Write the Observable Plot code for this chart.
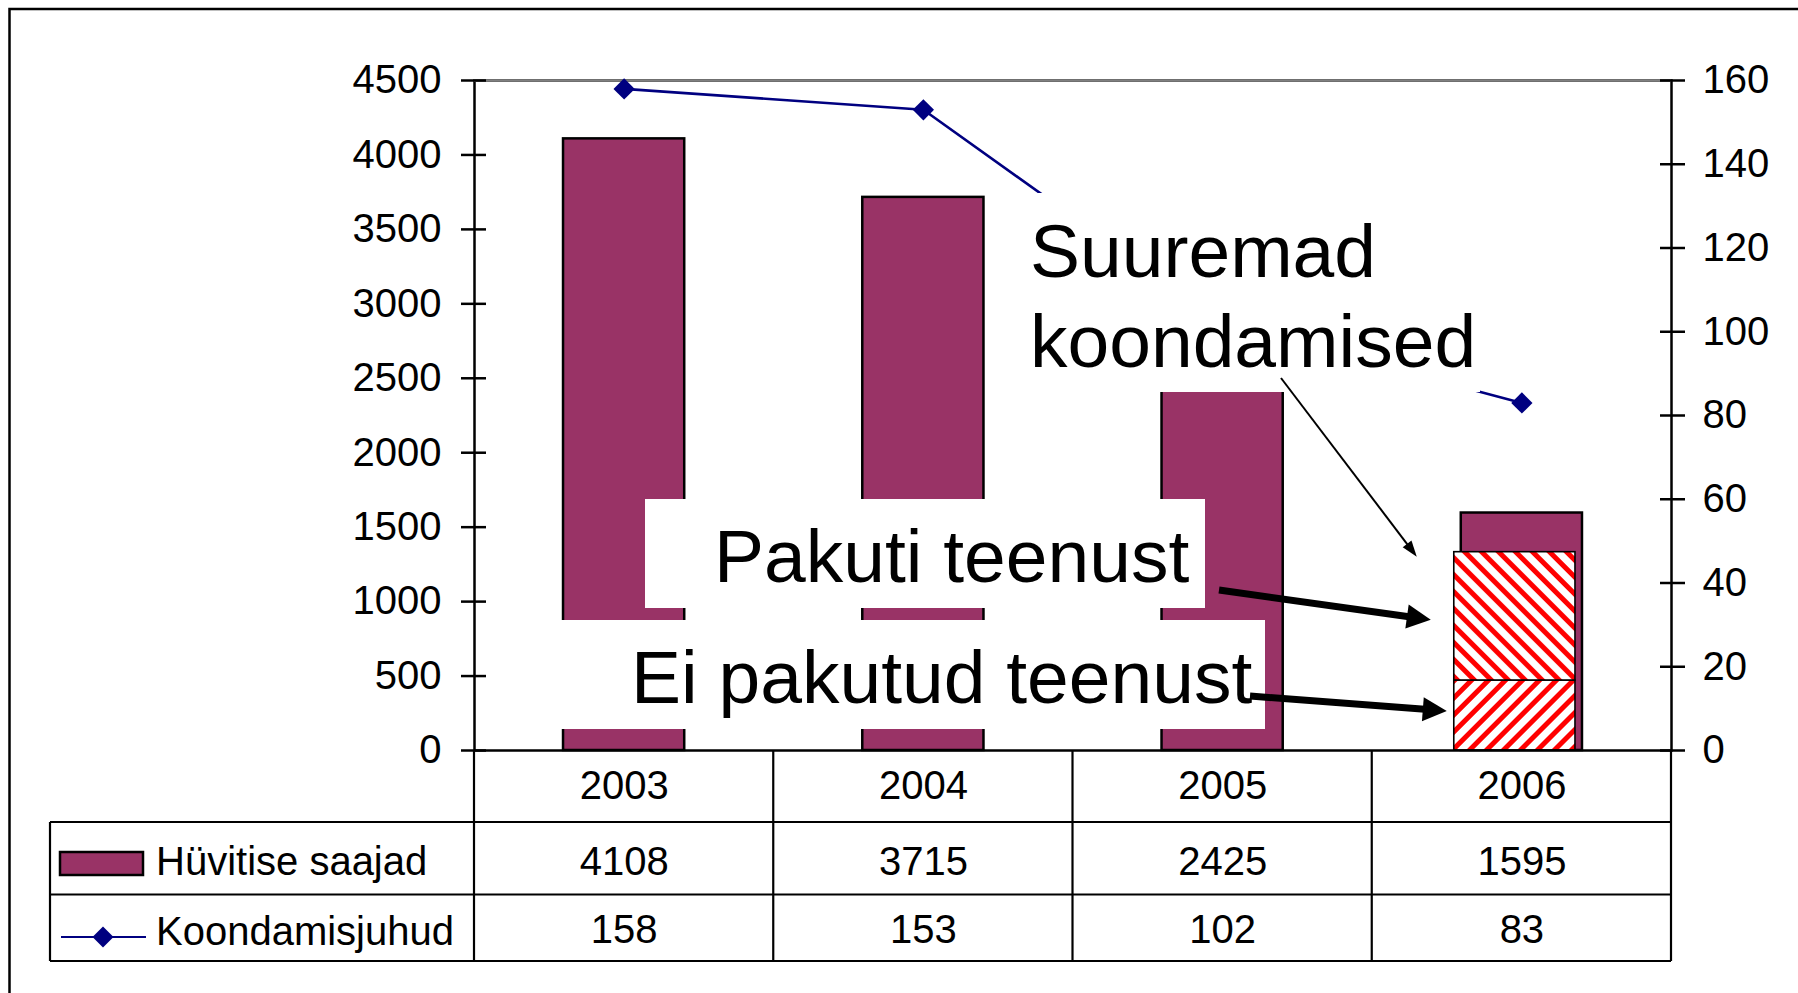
<!DOCTYPE html>
<html>
<head>
<meta charset="utf-8">
<script src="https://cdn.jsdelivr.net/npm/d3@7"></script>
<script src="https://cdn.jsdelivr.net/npm/@observablehq/plot@0.6"></script>
<style>
html, body { margin: 0; padding: 0; background: #fff; }
#chart { position: relative; width: 1798px; height: 993px; overflow: hidden; background: #fff; }
svg { display: block; }
</style>
</head>
<body>
<div id="chart"></div>
<script>
// ---- data ----
const years = ["2003", "2004", "2005", "2006"];
const recipients = [4108, 3715, 2425, 1595];      // Hüvitise saajad (left axis)
const layoffs = [158, 153, 102, 83];               // Koondamisjuhud (right axis)
const serviceNotOffered = [470];                   // 2006: Ei pakutud teenust
const serviceOffered = [862];                      // 2006: Pakuti teenust
const hatchYears = ["2006"];
const leftTicks = [0, 500, 1000, 1500, 2000, 2500, 3000, 3500, 4000, 4500];
const rightTicks = [0, 20, 40, 60, 80, 100, 120, 140, 160];
const seriesNames = ["Hüvitise saajad", "Koondamisjuhud"];
const labelSuuremad = ["Suuremad", "koondamised"];
const labelPakuti = "Pakuti teenust";
const labelEiPakutud = "Ei pakutud teenust";

const leftMax = 4500, rightMax = 160;
const K = leftMax / rightMax;

const rows = years.map((year, i) => ({year, recipients: recipients[i], layoffs: layoffs[i]}));
const hatchLow = hatchYears.map((year, i) => ({year, y1: 0, y2: serviceNotOffered[i]}));
const hatchHigh = hatchYears.map((year, i) => ({year, y1: serviceNotOffered[i], y2: serviceNotOffered[i] + serviceOffered[i]}));

const FONT = "'Liberation Sans', Arial, Helvetica, sans-serif";
const PLUM = "#993366", NAVY = "#000080";

const plot = Plot.plot({
  width: 1798,
  height: 993,
  marginLeft: 474,
  marginRight: 127,
  marginTop: 80,
  marginBottom: 243,
  style: {fontFamily: FONT, fontSize: "40px", color: "#000", background: "#fff", overflow: "visible"},
  x: {type: "band", domain: years, paddingInner: 0.595, paddingOuter: 0.2975, round: false, axis: null},
  y: {domain: [0, leftMax], axis: null, label: null},
  marks: [
    Plot.barY(rows, {x: "year", y: "recipients", fill: PLUM, stroke: "#000", strokeWidth: 2.5}),
    Plot.barY(hatchLow, {x: "year", y1: "y1", y2: "y2", fill: "url(#hatchFwd)", stroke: "#000", strokeWidth: 1.6, dx: -7}),
    Plot.barY(hatchHigh, {x: "year", y1: "y1", y2: "y2", fill: "url(#hatchBack)", stroke: "#000", strokeWidth: 1.6, dx: -7}),
    Plot.frame({stroke: "#000", strokeWidth: 2.5}),
    Plot.ruleY([leftMax], {stroke: "#808080", strokeWidth: 2.6}),
    Plot.line(rows, {x: "year", y: d => d.layoffs * K, stroke: NAVY, strokeWidth: 2.6}),
    Plot.dot(rows, {x: "year", y: d => d.layoffs * K, symbol: "diamond2", r: 9.6, fill: NAVY, stroke: "none"}),
    // left axis: crossing ticks + labels
    Plot.axisY(leftTicks, {anchor: "left", tickSize: 25, dx: 12, tickFormat: () => "", strokeWidth: 2.5, label: null}),
    Plot.axisY(leftTicks, {anchor: "left", tickSize: 0, tickPadding: 33, fontSize: 40, fill: "#000", label: null,
      tickFormat: v => String(v)}),
    // right axis (Koondamisjuhud)
    Plot.axisY(rightTicks.map(v => v * K), {anchor: "right", tickSize: 25, dx: -12, tickFormat: () => "", strokeWidth: 2.5, label: null}),
    Plot.axisY(rightTicks.map(v => v * K), {anchor: "right", tickSize: 0, tickPadding: 31, fontSize: 40, fill: "#000", label: null,
      tickFormat: v => String(Math.round(v / K))}),
    // data table rows
    Plot.text(rows, {x: "year", text: "year", frameAnchor: "bottom", dy: 35.5, fontSize: 40, fill: "#000", lineAnchor: "middle"}),
    Plot.text(rows, {x: "year", text: d => String(d.recipients), frameAnchor: "bottom", dy: 112, fontSize: 40, fill: "#000", lineAnchor: "middle"}),
    Plot.text(rows, {x: "year", text: d => String(d.layoffs), frameAnchor: "bottom", dy: 180, fontSize: 40, fill: "#000", lineAnchor: "middle"})
  ]
});

document.getElementById("chart").appendChild(plot);

const svg = d3.select(plot);
const xs = plot.scale("x");
const ys = plot.scale("y");

// hatch patterns
const defs = svg.insert("defs", ":first-child");
function hatch(id, angle) {
  const p = defs.append("pattern").attr("id", id).attr("patternUnits", "userSpaceOnUse")
    .attr("width", 12).attr("height", 12).attr("patternTransform", `rotate(${angle})`);
  p.append("rect").attr("width", 12).attr("height", 12).attr("fill", "#fff");
  p.append("rect").attr("width", 5).attr("height", 12).attr("fill", "#ff0000");
}
hatch("hatchFwd", 45);    // "/" stripes
hatch("hatchBack", -45);  // "\" stripes

// ---- data table grid & legend ----
const zero = ys.apply(0);
const gap = (xs.step - xs.bandwidth) / 2;
const bounds = years.map(y => xs.apply(y) - gap).concat([xs.apply(years[years.length - 1]) + xs.bandwidth + gap]);
const rowLines = [zero + 72, zero + 144.5, zero + 211];
const tableLeft = 50;
const right = bounds[bounds.length - 1];

const grid = svg.append("g").attr("stroke", "#000").attr("stroke-width", 2.2).attr("fill", "none");
rowLines.forEach(y => grid.append("line").attr("x1", tableLeft).attr("x2", right).attr("y1", y).attr("y2", y));
grid.append("line").attr("x1", tableLeft).attr("x2", tableLeft).attr("y1", rowLines[0]).attr("y2", rowLines[2]);
bounds.forEach(x => grid.append("line").attr("x1", x).attr("x2", x).attr("y1", zero).attr("y2", rowLines[2]));

const leg = svg.append("g").attr("font-family", FONT).attr("font-size", 40).attr("text-anchor", "start");
leg.append("rect").attr("x", 60).attr("y", 852).attr("width", 83).attr("height", 23)
  .attr("fill", PLUM).attr("stroke", "#000").attr("stroke-width", 2.5);
leg.append("text").attr("x", 156).attr("y", 875).text(seriesNames[0]);
leg.append("line").attr("x1", 61).attr("x2", 146).attr("y1", 937).attr("y2", 937).attr("stroke", NAVY).attr("stroke-width", 2.2);
leg.append("path").attr("d", "M103,926.5L113.5,937L103,947.5L92.5,937Z").attr("fill", NAVY);
leg.append("text").attr("x", 156).attr("y", 945).text(seriesNames[1]);

// ---- annotations ----
const ann = svg.append("g").attr("font-family", FONT).attr("font-size", 75).attr("fill", "#000").attr("text-anchor", "start");
ann.append("rect").attr("x", 1020).attr("y", 193).attr("width", 460).attr("height", 199).attr("fill", "#fff");
ann.append("rect").attr("x", 645).attr("y", 499).attr("width", 560).attr("height", 109).attr("fill", "#fff");
ann.append("rect").attr("x", 556).attr("y", 620).attr("width", 709).attr("height", 109).attr("fill", "#fff");
ann.append("text").attr("x", 1030).attr("y", 277).text(labelSuuremad[0]);
ann.append("text").attr("x", 1030).attr("y", 367).text(labelSuuremad[1]);
ann.append("text").attr("x", 714).attr("y", 582).text(labelPakuti);
ann.append("text").attr("x", 631).attr("y", 703).text(labelEiPakutud);

function arrow(g, x1, y1, x2, y2, w, headLen, headHalf) {
  const dx = x2 - x1, dy = y2 - y1, L = Math.hypot(dx, dy), ux = dx / L, uy = dy / L, px = -uy, py = ux;
  const bx = x2 - ux * headLen, by = y2 - uy * headLen;
  g.append("line").attr("x1", x1).attr("y1", y1).attr("x2", bx + ux * 2).attr("y2", by + uy * 2)
    .attr("stroke", "#000").attr("stroke-width", w);
  g.append("path").attr("d", `M${x2},${y2}L${bx + px * headHalf},${by + py * headHalf}L${bx - px * headHalf},${by - py * headHalf}Z`)
    .attr("fill", "#000");
}
const hatchLeft = xs.apply(hatchYears[0]) - 7;
const arrows = svg.append("g");
arrow(arrows, 1281, 378, hatchLeft - 37, ys.apply(hatchHigh[0].y2) + 5, 2, 16, 5.5);
arrow(arrows, 1219, 590, hatchLeft - 23, ys.apply((hatchHigh[0].y1 + hatchHigh[0].y2) / 2) + 4, 7, 24, 12);
arrow(arrows, 1250, 696, hatchLeft - 7, ys.apply(hatchLow[0].y2 / 2) - 4, 7, 24, 12);

// outer chart border (only top and left edges visible in the crop)
svg.append("rect").attr("x", 9.5).attr("y", 9).attr("width", 2000).attr("height", 2000)
  .attr("fill", "none").attr("stroke", "#000").attr("stroke-width", 2.5);
</script>
</body>
</html>
